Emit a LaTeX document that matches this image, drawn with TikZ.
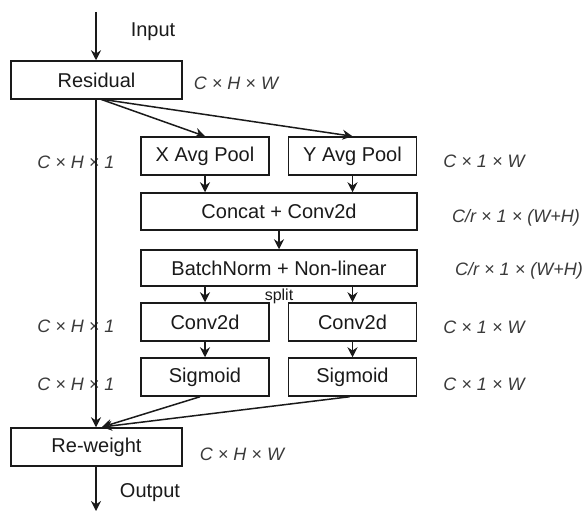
\documentclass[tikz,border=0pt]{standalone}
\usepackage{fontspec}
\setmainfont{Liberation Sans}
\usetikzlibrary{positioning,arrows.meta}
\definecolor{ink}{HTML}{1A1A1A}
\definecolor{mute}{HTML}{3A3A3A}
\tikzset{
  block/.style={draw=ink,line width=1.5pt,fill=white,inner sep=0pt,
                minimum height=38pt,font=\fontsize{20}{24}\selectfont,text=ink},
  half/.style={block,minimum width=128pt},
  wide/.style={block,minimum width=276pt},
  outer/.style={block,minimum width=171pt},
  dims/.style={font=\fontsize{18}{22}\selectfont\itshape,text=mute,inner sep=0pt},
  flow/.style={-{Stealth[length=10pt,width=10pt]},line width=1.5pt,draw=ink},
  tag/.style={font=\fontsize{20}{24}\selectfont,text=ink,inner sep=0pt}
}

\begin{document}
\begin{tikzpicture}[x=1pt,y=-1pt]
  \useasboundingbox (0,0) rectangle (585,511);

  % stem and output blocks
  \node[outer] (residual) at (96.5,80)  {Residual};
  \node[outer] (reweight) at (96.5,447) {Re-weight};

  % coordinate attention branch
  \node[half] (xpool)  at (205,156)   {X Avg Pool};
  \node[half] (ypool)  at (352.5,156) {Y Avg Pool};
  \node[wide,minimum height=37pt] (concat) at (279,211.5) {Concat + Conv2d};
  \node[wide,minimum height=36pt] (bnorm)  at (279,268)   {BatchNorm + Non-linear};
  \node[half] (convh) at (205,322)   {Conv2d};
  \node[half] (convw) at (352.5,322) {Conv2d};
  \node[half] (sigh)  at (205,377)   {Sigmoid};
  \node[half] (sigw)  at (352.5,377) {Sigmoid};

  % tensor shapes
  \node[tag] (input)  at (153,32)  {Input};
  \node[tag] (output) at (150,493) {Output};
  \node[dims] (d0) at (236,83)  {C × H × W};
  \node[dims] (d1) at (76,162)  {C × H × 1};
  \node[dims] (d2) at (484,161) {C × 1 × W};
  \node[dims] (d3) at (516,218) {C/r × 1 × (W+H)};
  \node[dims] (d4) at (519,271) {C/r × 1 × (W+H)};
  \node[dims] (d5) at (76,326)  {C × H × 1};
  \node[dims] (d6) at (484,327) {C × 1 × W};
  \node[dims] (d7) at (76,384)  {C × H × 1};
  \node[dims] (d8) at (484,384) {C × 1 × W};
  \node[dims] (d9) at (242,454) {C × H × W};

  \coordinate (top) at (96,12);
  \coordinate (bottom) at (96,511);
  \coordinate (fork) at (100,99);
  \coordinate (merge) at (102,427);

  % connectors
  \draw[flow] (top) -- (residual.north -| top);
  \draw[flow] (residual.south -| top) -- (reweight.north -| top);
  \draw[flow] (fork) -- (xpool.north);
  \draw[flow] (fork) -- (ypool.north);
  \draw[flow] (xpool) -- (xpool.south |- concat.north);
  \draw[flow] (ypool) -- (ypool.south |- concat.north);
  \draw[flow] (concat) -- (bnorm);
  \draw[flow] (bnorm.south -| convh) -- (convh);
  \draw[flow] (bnorm.south -| convw) -- (convw);
  \draw[flow] (convh) -- (sigh);
  \draw[flow] (convw) -- (sigw);
  \draw[flow] ([xshift=-5pt]sigh.south) -- (merge);
  \draw[flow] ([xshift=-3pt]sigw.south) -- (merge);
  \draw[flow] (reweight.south -| top) -- (bottom);

  \node[font=\fontsize{16}{18}\selectfont,text=ink,inner sep=0pt]
    (split) at (279,296) {split};
\end{tikzpicture}
\end{document}
